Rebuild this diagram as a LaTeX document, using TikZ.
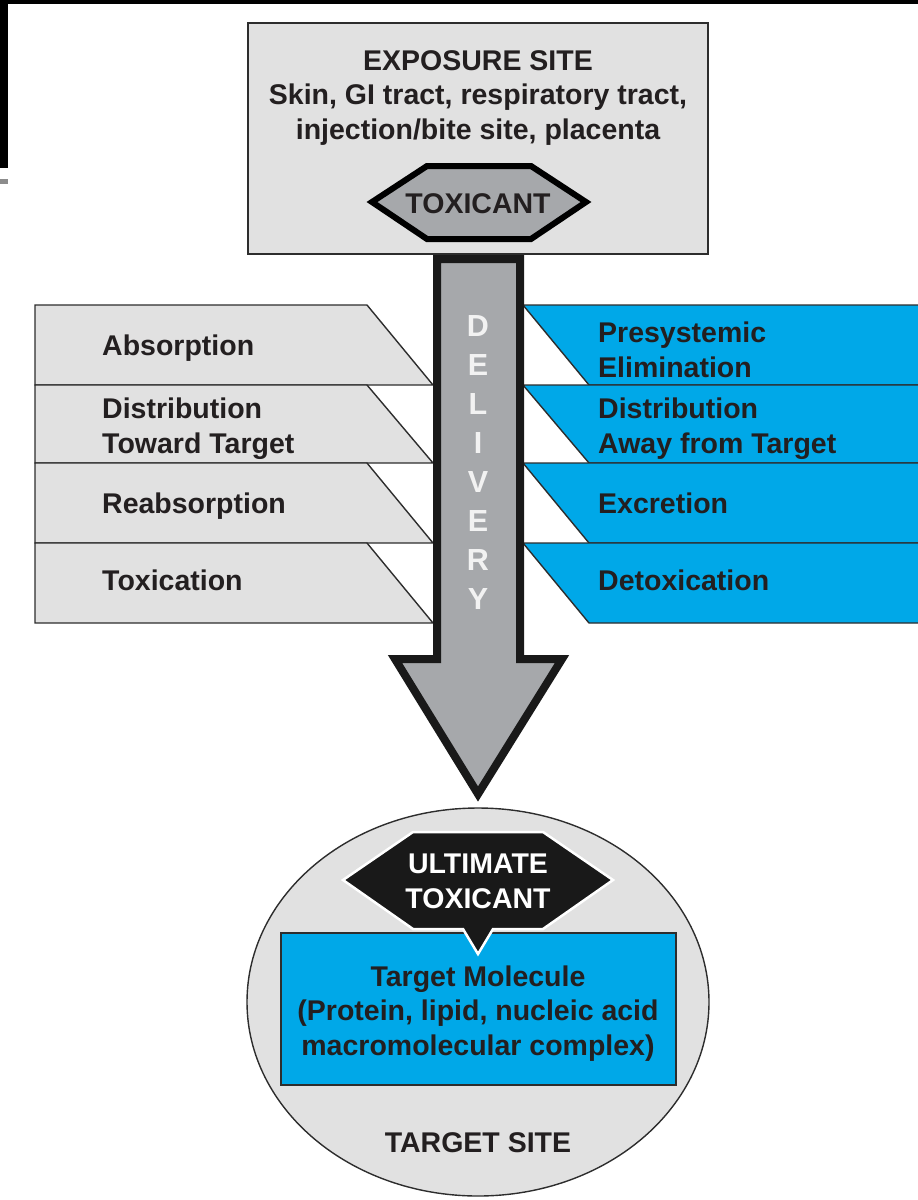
\documentclass[tikz,border=0pt]{standalone}
\usepackage{fontspec}
\setmainfont{Liberation Sans}
\definecolor{lgrey}{RGB}{225,225,225}
\definecolor{agrey}{RGB}{166,168,171}
\definecolor{tblue}{RGB}{0,168,232}
\definecolor{edge}{RGB}{45,45,45}
\definecolor{ink}{RGB}{35,31,32}
\begin{document}
\begin{tikzpicture}[x=1pt,y=-1pt,
  lbl/.style={font=\fontsize{28.5}{34.5}\selectfont\bfseries, text=ink, inner sep=0pt},
  lbox/.style={fill=lgrey, draw=edge, line width=1.4pt},
  rbox/.style={fill=tblue, draw=edge, line width=1.4pt},
  dl/.style={font=\fontsize{30.5}{36}\selectfont\bfseries, text=white!95!black, inner sep=0pt, anchor=base}]
\useasboundingbox (0,0) rectangle (918,1200);
\clip (0,0) rectangle (918,1200);
% frame remnants
\fill[black] (0,0) rectangle (918,4);
\fill[black] (0,0) rectangle (8,168);
\fill[black!45] (0,179) rectangle (8,184);
% exposure box
\path[lbox] (248,23) rectangle (708,254);
\node[lbl, anchor=base, align=center] (exp) at (478,139) {EXPOSURE SITE\\Skin, GI tract, respiratory tract,\\injection/bite site, placenta};
% toxicant hexagon
\path[fill=agrey, draw=black, line width=6pt, line join=miter] (372,202) -- (427,166) -- (531,166) -- (586,202) -- (531,239) -- (427,239) -- cycle;
\node[lbl, anchor=base] (tox) at (478,213) {TOXICANT};
% left boxes
\foreach \t/\b in {305/385,385/463,463/543,543/623}{
  \path[lbox] (35,\t) -- (367,\t) -- (433,\b) -- (35,\b) -- cycle;
}
% right boxes
\foreach \t/\b in {305/385,385/463,463/543,543/623}{
  \path[rbox] (523,\t) -- (922,\t) -- (922,\b) -- (589,\b) -- cycle;
}
% delivery arrow
\path[fill=agrey, draw=black!90, line width=8pt, line join=miter, miter limit=10]
  (437,259) -- (520,259) -- (520,659) -- (562,659) -- (478,794) -- (395,659) -- (437,659) -- cycle;
\foreach \ch [count=\i from 0] in {D,E,L,I,V,E,R,Y}{
  \node[dl] (d\i) at (478,336+39.1*\i) {\ch};
}
% left labels
\node[lbl, anchor=base west] (abs) at (102,355) {Absorption};
\node[lbl, anchor=base west, align=left] (dtt) at (102,453) {Distribution\\Toward Target};
\node[lbl, anchor=base west] (reab) at (102,513) {Reabsorption};
\node[lbl, anchor=base west] (toxn) at (102,590) {Toxication};
% right labels
\node[lbl, anchor=base west, align=left] (pre) at (598,377) {Presystemic\\Elimination};
\node[lbl, anchor=base west, align=left] (daw) at (598,453) {Distribution\\Away from Target};
\node[lbl, anchor=base west] (exc) at (598,513) {Excretion};
\node[lbl, anchor=base west] (detox) at (598,590) {Detoxication};
% target site ellipse
\path[fill=lgrey, draw=edge, line width=1.4pt] (478,1002) ellipse [x radius=231, y radius=194];
% target molecule box
\path[rbox] (281,933) rectangle (676,1085);
% ultimate toxicant
\path[fill=black!90, draw=white, line width=2.5pt, line join=miter]
  (343,880) -- (413,832) -- (543,832) -- (613,880) -- (543,929) -- (493,929) -- (478,954) -- (463,929) -- (413,929) -- cycle;
\node[lbl, text=white, anchor=base, align=center] (ult) at (478,908) {ULTIMATE\\TOXICANT};
\node[lbl, anchor=base, align=center] (tm) at (478,1055) {Target Molecule\\(Protein, lipid, nucleic acid\\macromolecular complex)};
\node[lbl, anchor=base] (ts) at (478,1152) {TARGET SITE};
\end{tikzpicture}
\end{document}
